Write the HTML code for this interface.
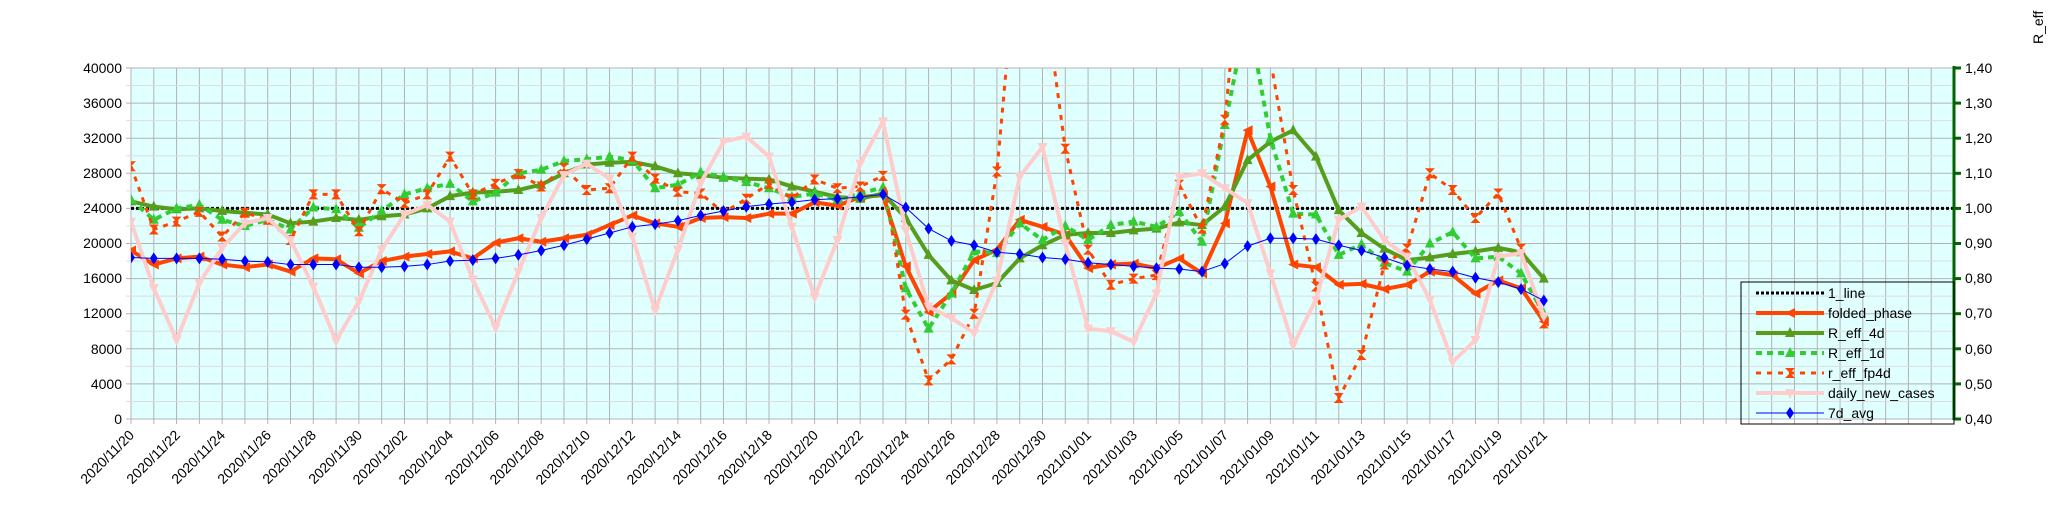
<!DOCTYPE html>
<html><head><meta charset="utf-8"><style>
html,body{margin:0;padding:0;background:#fff;}
svg{display:block;font-family:"Liberation Sans",sans-serif;}
</style></head><body>
<svg id="s" width="2048" height="527" xmlns="http://www.w3.org/2000/svg">
<defs><clipPath id="cp"><rect x="131" y="68" width="1823" height="351"/></clipPath></defs>
<rect x="131" y="68" width="1823" height="351" fill="#e0ffff"/>
<g id="grid"></g>
<g id="series" clip-path="url(#cp)"></g>
<line x1="1954" y1="66" x2="1954" y2="420" stroke="#006400" stroke-width="3"/>
<g id="rticks"></g>
<g font-size="14" fill="#000" text-anchor="end">
<text x="122" y="73">40000</text><text x="122" y="108">36000</text><text x="122" y="143">32000</text>
<text x="122" y="178">28000</text><text x="122" y="213">24000</text><text x="122" y="248">20000</text>
<text x="122" y="283">16000</text><text x="122" y="318">12000</text><text x="122" y="354">8000</text>
<text x="122" y="389">4000</text><text x="122" y="424">0</text>
</g>
<g font-size="14" fill="#000">
<text x="1965" y="73">1,40</text><text x="1965" y="108">1,30</text><text x="1965" y="143">1,20</text>
<text x="1965" y="178">1,10</text><text x="1965" y="213">1,00</text><text x="1965" y="248">0,90</text>
<text x="1965" y="283">0,80</text><text x="1965" y="318">0,70</text><text x="1965" y="354">0,60</text>
<text x="1965" y="389">0,50</text><text x="1965" y="424">0,40</text>
</g>
<text x="0" y="0" font-size="14" transform="translate(2043,44) rotate(-90)">R_eff</text>
<g id="xl" font-size="14" fill="#000" text-anchor="end">
<text transform="translate(135,436) rotate(-45)">2020/11/20</text>
<text transform="translate(181,436) rotate(-45)">2020/11/22</text>
<text transform="translate(226,436) rotate(-45)">2020/11/24</text>
<text transform="translate(272,436) rotate(-45)">2020/11/26</text>
<text transform="translate(317,436) rotate(-45)">2020/11/28</text>
<text transform="translate(363,436) rotate(-45)">2020/11/30</text>
<text transform="translate(408,436) rotate(-45)">2020/12/02</text>
<text transform="translate(454,436) rotate(-45)">2020/12/04</text>
<text transform="translate(500,436) rotate(-45)">2020/12/06</text>
<text transform="translate(545,436) rotate(-45)">2020/12/08</text>
<text transform="translate(591,436) rotate(-45)">2020/12/10</text>
<text transform="translate(636,436) rotate(-45)">2020/12/12</text>
<text transform="translate(682,436) rotate(-45)">2020/12/14</text>
<text transform="translate(728,436) rotate(-45)">2020/12/16</text>
<text transform="translate(773,436) rotate(-45)">2020/12/18</text>
<text transform="translate(819,436) rotate(-45)">2020/12/20</text>
<text transform="translate(864,436) rotate(-45)">2020/12/22</text>
<text transform="translate(910,436) rotate(-45)">2020/12/24</text>
<text transform="translate(956,436) rotate(-45)">2020/12/26</text>
<text transform="translate(1001,436) rotate(-45)">2020/12/28</text>
<text transform="translate(1047,436) rotate(-45)">2020/12/30</text>
<text transform="translate(1092,436) rotate(-45)">2021/01/01</text>
<text transform="translate(1138,436) rotate(-45)">2021/01/03</text>
<text transform="translate(1184,436) rotate(-45)">2021/01/05</text>
<text transform="translate(1229,436) rotate(-45)">2021/01/07</text>
<text transform="translate(1275,436) rotate(-45)">2021/01/09</text>
<text transform="translate(1320,436) rotate(-45)">2021/01/11</text>
<text transform="translate(1366,436) rotate(-45)">2021/01/13</text>
<text transform="translate(1412,436) rotate(-45)">2021/01/15</text>
<text transform="translate(1457,436) rotate(-45)">2021/01/17</text>
<text transform="translate(1503,436) rotate(-45)">2021/01/19</text>
<text transform="translate(1548,436) rotate(-45)">2021/01/21</text>
</g>
<rect x="1741" y="282" width="213" height="142" fill="none" stroke="#000" stroke-width="1"/>
<g id="leg"></g>
<g font-size="14" fill="#000">
<text x="1828" y="298">1_line</text>
<text x="1828" y="318">folded_phase</text>
<text x="1828" y="338">R_eff_4d</text>
<text x="1828" y="358">R_eff_1d</text>
<text x="1828" y="378">r_eff_fp4d</text>
<text x="1828" y="398">daily_new_cases</text>
<text x="1828" y="418">7d_avg</text>
</g>
</svg>
<script>
var NS="http://www.w3.org/2000/svg";
function el(p,t,a){var e=document.createElementNS(NS,t);for(var k in a)e.setAttribute(k,a[k]);p.appendChild(e);return e;}
function X(i){return 131+22.7875*i;}
function Y(v){return 419-8.775*v;}
var g=document.getElementById('grid');
for(var i=0;i<=80;i++){el(g,'line',{x1:X(i),x2:X(i),y1:68,y2:424,stroke:'#b3b3b3','stroke-width':1});}
for(var v=0;v<=40;v+=2){el(g,'line',{x1:126,x2:1954,y1:Y(v),y2:Y(v),stroke:(v%4==0)?'#b3b3b3':'#dddddd','stroke-width':1});}
var rt=document.getElementById('rticks');
for(var v=0;v<=40;v+=4){el(rt,'line',{x1:1954,x2:1961,y1:Y(v),y2:Y(v),stroke:'#006400','stroke-width':3});}
var daily=[22.5,14.9,9.0,15.5,19.5,22.3,22.9,20.4,15.1,8.9,13.4,19.3,23.3,24.4,22.5,15.9,10.4,16.8,22.9,27.8,29.1,27.4,20.8,12.4,19.3,26.9,31.6,32.2,29.9,21.9,13.9,20.4,29.1,33.9,21.5,12.8,11.5,9.8,15.8,27.6,31.0,20.0,10.3,10.0,8.8,14.3,27.6,28.0,26.3,24.6,16.6,8.4,13.6,22.7,24.2,20.4,18.5,13.6,6.5,9.0,18.5,18.9,11.7];
var avg=[18.4,18.3,18.3,18.3,18.2,18.0,17.9,17.6,17.6,17.6,17.3,17.3,17.4,17.6,18.0,18.1,18.3,18.7,19.2,19.8,20.5,21.2,21.9,22.2,22.6,23.2,23.7,24.2,24.5,24.7,25.0,25.1,25.3,25.6,24.1,21.7,20.3,19.8,19.0,18.8,18.4,18.2,17.8,17.6,17.4,17.2,17.1,16.8,17.7,19.7,20.6,20.6,20.5,19.8,19.2,18.4,17.5,17.1,16.8,16.1,15.6,14.8,13.5];
var fold=[19.2,17.6,18.3,18.5,17.6,17.3,17.6,16.8,18.3,18.2,16.6,18.0,18.5,18.8,19.1,18.3,20.1,20.6,20.2,20.6,21.0,22.1,23.2,22.3,21.9,22.9,23.0,22.9,23.4,23.4,24.7,24.3,25.3,25.5,17.4,12.2,14.3,18.1,19.3,22.7,21.9,21.0,17.2,17.6,17.7,17.2,18.3,16.6,22.3,32.9,26.5,17.6,17.3,15.3,15.4,14.8,15.3,16.8,16.4,14.3,15.8,14.9,11.1];
var r4=[24.8,24.2,23.9,24.0,23.7,23.5,23.3,22.3,22.5,22.9,22.7,23.1,23.3,24.0,25.4,25.8,25.9,26.1,26.7,28.0,29.0,29.2,29.3,28.8,28.0,27.8,27.5,27.4,27.3,26.5,25.9,25.3,25.1,25.7,22.9,18.7,15.8,14.7,15.5,18.3,19.8,21.0,21.2,21.2,21.5,21.7,22.4,22.1,24.2,29.5,31.6,32.9,29.9,23.8,21.2,19.4,18.1,18.4,18.8,19.1,19.5,19.0,16.0];
var r1=[25.0,22.7,24.0,24.4,22.7,22.0,22.7,21.6,24.1,23.9,21.8,23.7,25.6,26.3,26.8,24.8,25.8,28.0,28.4,29.4,29.6,29.9,29.5,26.3,26.7,28.1,27.6,27.0,26.3,25.3,25.7,25.0,25.7,26.4,14.9,10.3,14.3,19.1,18.9,22.3,20.4,22.0,20.4,22.1,22.5,21.9,23.6,20.2,33.5,46.4,32.0,23.4,23.3,18.7,19.9,17.8,16.8,20.0,21.3,18.3,18.5,16.6,12.0];
var fp=[28.8,21.6,22.5,23.6,20.8,23.5,22.7,20.4,25.6,25.6,21.4,26.2,24.6,25.6,29.9,25.6,26.8,27.9,26.5,28.6,26.1,26.3,29.9,27.4,25.9,25.7,23.5,25.1,26.8,25.1,27.3,26.3,26.5,27.7,11.9,4.4,6.8,12.0,28.2,57,50,30.8,19.3,15.3,16.0,16.4,26.7,21.7,34.1,60,41,26.1,15.1,2.4,7.3,17.6,19.4,28.0,26.1,22.9,25.7,19.4,10.9];
var S=document.getElementById('series');
function pts(d){return d.map(function(v,i){return X(i)+','+Y(v);}).join(' ');}
function marker(p,type,x,y,c,s){
 s=s||5;
 if(type=='tri')el(p,'polygon',{points:(x)+','+(y-s-1)+' '+(x-s)+','+(y+s-1)+' '+(x+s)+','+(y+s-1),fill:c});
 else if(type=='dtri')el(p,'polygon',{points:(x-s)+','+(y-s+1)+' '+(x+s)+','+(y-s+1)+' '+x+','+(y+s+1),fill:c});
 else if(type=='ltri')el(p,'polygon',{points:(x-s)+','+y+' '+(x+s)+','+(y-s)+' '+(x+s)+','+(y+s),fill:c});
 else if(type=='dia')el(p,'polygon',{points:x+','+(y-s-1)+' '+(x+s-1)+','+y+' '+x+','+(y+s+1)+' '+(x-s+1)+','+y,fill:c});
 else if(type=='bow')el(p,'polygon',{points:(x-s)+','+(y-s)+' '+x+','+y+' '+(x-s)+','+(y+s)+' '+(x+s)+','+(y+s)+' '+x+','+y+' '+(x+s)+','+(y-s),fill:c});
}
function series(d,c,w,dash,mk){
 var a={points:pts(d),fill:'none',stroke:c,'stroke-width':w,'stroke-linejoin':'round'};
 if(dash)a['stroke-dasharray']=dash;
 el(S,'polyline',a);
 d.forEach(function(v,i){marker(S,mk,X(i),Y(v),c);});
}
el(S,'line',{x1:131,x2:1954,y1:Y(24),y2:Y(24),stroke:'#000','stroke-width':3,'stroke-dasharray':'3,2'});
series(fold,'#ff4500',4,null,'ltri');
series(r4,'#579d1c',4,null,'tri');
series(r1,'#33cc33',4,'6,5','tri');
series(fp,'#ff4500',3,'5,6','bow');
series(daily,'#ffcccc',4,null,'dtri');
series(avg,'#0000ff',1,null,'dia');
var L=document.getElementById('leg');
var ly=[293,313,333,353,373,393,413];
el(L,'line',{x1:1756,x2:1824,y1:ly[0],y2:ly[0],stroke:'#000','stroke-width':3,'stroke-dasharray':'3,2'});
el(L,'line',{x1:1756,x2:1824,y1:ly[1],y2:ly[1],stroke:'#ff4500','stroke-width':4});marker(L,'ltri',1790,ly[1],'#ff4500');
el(L,'line',{x1:1756,x2:1824,y1:ly[2],y2:ly[2],stroke:'#579d1c','stroke-width':4});marker(L,'tri',1790,ly[2],'#579d1c');
el(L,'line',{x1:1756,x2:1824,y1:ly[3],y2:ly[3],stroke:'#33cc33','stroke-width':4,'stroke-dasharray':'6,5'});marker(L,'tri',1790,ly[3],'#33cc33');
el(L,'line',{x1:1756,x2:1824,y1:ly[4],y2:ly[4],stroke:'#ff4500','stroke-width':3,'stroke-dasharray':'5,6'});marker(L,'bow',1790,ly[4],'#ff4500');
el(L,'line',{x1:1756,x2:1824,y1:ly[5],y2:ly[5],stroke:'#ffcccc','stroke-width':4});marker(L,'dtri',1790,ly[5],'#ffcccc');
el(L,'line',{x1:1756,x2:1824,y1:ly[6],y2:ly[6],stroke:'#0000ff','stroke-width':1});marker(L,'dia',1790,ly[6],'#0000ff');
</script>
</body></html>
